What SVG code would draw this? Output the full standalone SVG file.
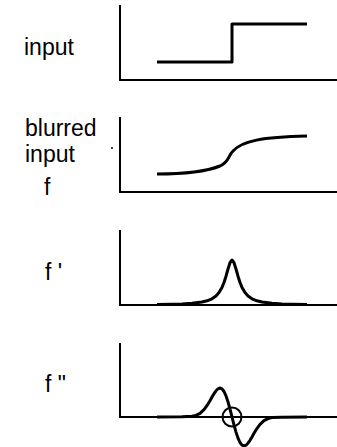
<svg xmlns="http://www.w3.org/2000/svg" width="337" height="447" viewBox="0 0 337 447">
<style>
.lbl{font-family:"Liberation Sans",Arial,sans-serif;font-size:23px;fill:#000}
.axis{fill:none;stroke:#000;stroke-width:2}
.curve{fill:none;stroke:#000;stroke-width:3;stroke-linejoin:round;stroke-linecap:butt}
</style>
<rect width="337" height="447" fill="#fff"/>
<g id="panel-input">
<text class="lbl" x="24" y="55">input</text>
<path class="axis" d="M120,5 V80 H337"/>
<path class="curve" d="M157,62 H232 V24 H307"/>
</g>
<g id="panel-blurred">
<text class="lbl" x="25" y="136">blurred</text>
<text class="lbl" x="25" y="162">input</text>
<text class="lbl" x="44" y="195">f</text>
<circle cx="112" cy="148" r="1" fill="#000"/>
<path class="axis" d="M120,117 V192 H337"/>
<path class="curve" d="M157,174 C185,174 205,172 220,166 C229,162 228,156 233,151 C242,141 262,137 307,136"/>
</g>
<g id="panel-f1">
<text class="lbl" x="45" y="280">f '</text>
<path class="axis" d="M120,230 V305 H337"/>
<polyline class="curve" points="157,304.5 172,304.2 182,303.9 192,303.3 202,302 207,300.8 212,298.8 216,296 219,292.6 222,287.4 224,282.5 226,276.2 228,269 230,262.7 232,260 234,262.7 236,269 238,276.2 240,282.5 242,287.4 245,292.6 248,296 252,298.8 257,300.8 262,302 272,303.3 282,303.9 292,304.2 307,304.5"/>
</g>
<g id="panel-f2">
<text class="lbl" x="45" y="392">f "</text>
<path class="axis" d="M120,343 V417 H337"/>
<polyline class="curve" points="157,417 182,416.8 192,416.2 196,415.4 200,413.4 204,409.7 208,404.1 210,400.7 212,397.1 214,393.7 216,390.8 218,388.8 220,388 222,388.8 224,391.5 226,395.9 228,401.9 230,409.1 232,417 234,424.9 236,432.1 238,438.1 240,442.5 242,445.2 244,446 246,445.2 248,443.2 250,440.3 252,436.9 254,433.3 256,429.9 260,424.4 264,420.6 268,418.6 272,417.6 282,417.2 307,417"/>
<circle cx="232" cy="417" r="9.5" fill="none" stroke="#000" stroke-width="2"/>
</g>
</svg>
